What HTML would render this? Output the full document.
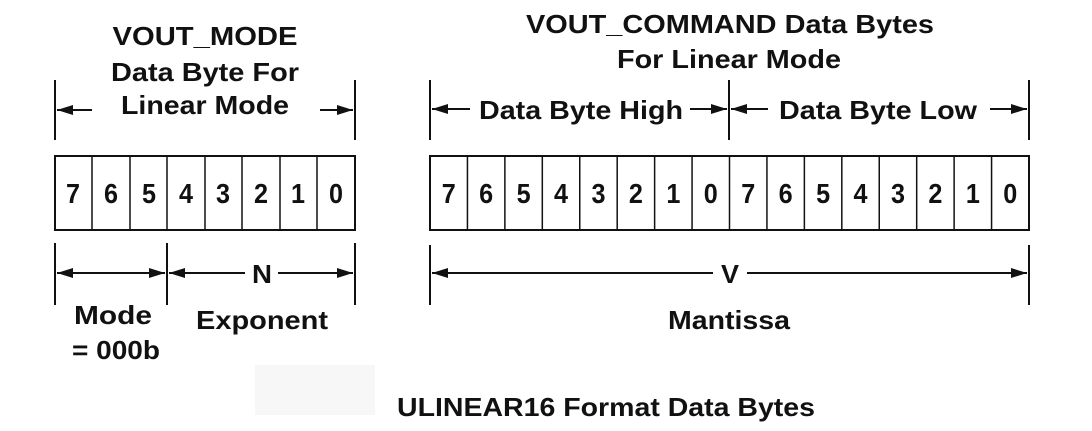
<!DOCTYPE html>
<html><head><meta charset="utf-8"><style>
html,body{margin:0;padding:0;background:#fff;width:1092px;height:431px;overflow:hidden}
text{font-family:"Liberation Sans",Arial,sans-serif;font-weight:bold;fill:#111}
</style></head><body>
<svg width="1092" height="431" viewBox="0 0 1092 431" xmlns="http://www.w3.org/2000/svg">
<defs>
<marker id="a" viewBox="0 0 16 10" refX="16" refY="5" markerWidth="16" markerHeight="10" orient="auto-start-reverse" markerUnits="userSpaceOnUse">
<path d="M0,0 L16,5 L0,10 z" fill="#111"/></marker>
</defs>
<rect x="255" y="365" width="120" height="50" fill="#f7f7f7"/>
<g stroke="#111" stroke-width="2" fill="none">
<line x1="55" y1="80" x2="55" y2="140"/><line x1="355" y1="80" x2="355" y2="140"/>
<line x1="430" y1="80" x2="430" y2="140"/><line x1="729" y1="80" x2="729" y2="140"/><line x1="1029" y1="80" x2="1029" y2="140"/>
<rect x="55" y="156" width="300" height="74"/>
<rect x="430" y="156" width="599" height="74"/>
<line x1="55" y1="243" x2="55" y2="305"/><line x1="167" y1="243" x2="167" y2="305"/><line x1="355" y1="243" x2="355" y2="305"/>
<line x1="430" y1="245" x2="430" y2="305"/><line x1="1029" y1="245" x2="1029" y2="305"/>
</g>
<g stroke="#111" stroke-width="2">
<line x1="57" y1="110" x2="92" y2="110" marker-start="url(#a)"/>
<line x1="320" y1="110" x2="353" y2="110" marker-end="url(#a)"/>
<line x1="432" y1="109" x2="470" y2="109" marker-start="url(#a)"/>
<line x1="690" y1="109" x2="727" y2="109" marker-end="url(#a)"/>
<line x1="731" y1="109" x2="768" y2="109" marker-start="url(#a)"/>
<line x1="990" y1="109" x2="1027" y2="109" marker-end="url(#a)"/>
<line x1="57" y1="273" x2="165" y2="273" marker-start="url(#a)" marker-end="url(#a)"/>
<line x1="169" y1="273" x2="245" y2="273" marker-start="url(#a)"/>
<line x1="278" y1="273" x2="353" y2="273" marker-end="url(#a)"/>
<line x1="432" y1="273" x2="713" y2="273" marker-start="url(#a)"/>
<line x1="747" y1="273" x2="1027" y2="273" marker-end="url(#a)"/>
</g>
<g stroke="#111" stroke-width="1.5">
<line x1="92" y1="156" x2="92" y2="230"/><line x1="130" y1="156" x2="130" y2="230"/><line x1="167" y1="156" x2="167" y2="230"/>
<line x1="205" y1="156" x2="205" y2="230"/><line x1="242" y1="156" x2="242" y2="230"/><line x1="280" y1="156" x2="280" y2="230"/><line x1="317" y1="156" x2="317" y2="230"/>
</g>
<g id="rc" stroke="#111" stroke-width="1.5"></g>
<g font-size="26" text-anchor="middle">
<text x="205" y="45" textLength="185" lengthAdjust="spacingAndGlyphs">VOUT_MODE</text>
<text x="205" y="81" textLength="188" lengthAdjust="spacingAndGlyphs">Data Byte For</text>
<text x="205" y="114" textLength="168" lengthAdjust="spacingAndGlyphs">Linear Mode</text>
<text x="730" y="33" textLength="408" lengthAdjust="spacingAndGlyphs">VOUT_COMMAND Data Bytes</text>
<text x="729" y="68" textLength="224" lengthAdjust="spacingAndGlyphs">For Linear Mode</text>
<text x="581" y="119" textLength="204" lengthAdjust="spacingAndGlyphs">Data Byte High</text>
<text x="878" y="119" textLength="198" lengthAdjust="spacingAndGlyphs">Data Byte Low</text>
<text x="262" y="283" textLength="20" lengthAdjust="spacingAndGlyphs">N</text>
<text x="730" y="283" textLength="18" lengthAdjust="spacingAndGlyphs">V</text>
<text x="113" y="324" textLength="78" lengthAdjust="spacingAndGlyphs">Mode</text>
<text x="116" y="359" textLength="88" lengthAdjust="spacingAndGlyphs">= 000b</text>
<text x="262" y="329" textLength="132" lengthAdjust="spacingAndGlyphs">Exponent</text>
<text x="729" y="329" textLength="122" lengthAdjust="spacingAndGlyphs">Mantissa</text>
<text x="606" y="416" textLength="418" lengthAdjust="spacingAndGlyphs">ULINEAR16 Format Data Bytes</text>
</g>
<g font-size="28" text-anchor="middle">
<text x="73" y="203" textLength="14" lengthAdjust="spacingAndGlyphs">7</text><text x="111" y="203" textLength="14" lengthAdjust="spacingAndGlyphs">6</text><text x="149" y="203" textLength="14" lengthAdjust="spacingAndGlyphs">5</text><text x="186" y="203" textLength="14" lengthAdjust="spacingAndGlyphs">4</text>
<text x="223" y="203" textLength="14" lengthAdjust="spacingAndGlyphs">3</text><text x="261" y="203" textLength="14" lengthAdjust="spacingAndGlyphs">2</text><text x="298" y="203" textLength="14" lengthAdjust="spacingAndGlyphs">1</text><text x="336" y="203" textLength="14" lengthAdjust="spacingAndGlyphs">0</text>
</g>
<script>
var g=document.getElementById('rc'),ns="http://www.w3.org/2000/svg",svg=g.ownerSVGElement;
var w=599/16,d=["7","6","5","4","3","2","1","0"];
for(var i=0;i<16;i++){var x=430+w*i;
if(i>0){var l=document.createElementNS(ns,'line');l.setAttribute('x1',x);l.setAttribute('x2',x);l.setAttribute('y1',156);l.setAttribute('y2',230);g.appendChild(l);}
var t=document.createElementNS(ns,'text');t.setAttribute('x',x+w/2);t.setAttribute('y',203);t.setAttribute('font-size','28');t.setAttribute('text-anchor','middle');t.setAttribute('textLength','14');t.setAttribute('lengthAdjust','spacingAndGlyphs');t.textContent=d[i%8];svg.appendChild(t);}
</script>
</svg>
</body></html>
